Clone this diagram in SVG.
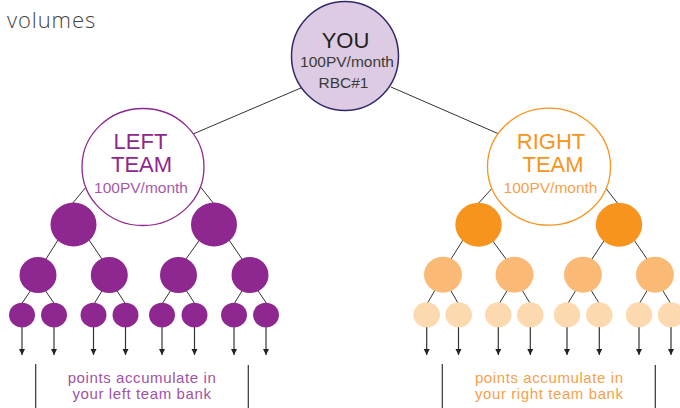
<svg xmlns="http://www.w3.org/2000/svg" width="680" height="408" viewBox="0 0 680 408">
<defs>
<marker id="ah" markerUnits="userSpaceOnUse" markerWidth="7" markerHeight="7" refX="6" refY="3" orient="auto">
<path d="M0,0 L6,3 L0,6 z" fill="#222"/>
</marker>
<style>
.ln{stroke:#333;stroke-width:1;fill:none}
.ar{stroke:#333;stroke-width:1.2;fill:none;marker-end:url(#ah)}
.br{stroke:#333;stroke-width:1.2}
.t{font-family:"Liberation Sans",Arial,sans-serif;text-anchor:middle}
.lbl{font-family:"Liberation Sans",Arial,sans-serif;text-anchor:middle;font-size:15px;letter-spacing:0.6px}
.p1{fill:#8E278F}
.o1{fill:#F7941E}
.o2{fill:#FBB976}
.o3{fill:#FDD9B0}
</style>
</defs>
<rect width="680" height="408" fill="#fff"/>
<text x="7" y="28" font-family="'Open Sans',sans-serif" font-weight="300" font-size="22" letter-spacing="0.9" fill="#444">volumes</text>

<g id="connectors">
<line class="ln" x1="302" y1="87.5" x2="193" y2="134"/>
<line class="ln" x1="391" y1="87" x2="499" y2="134"/>
<line class="ln" x1="86" y1="187" x2="72" y2="204"/>
<line class="ln" x1="199" y1="185" x2="214" y2="204"/>
<line class="ln" x1="494" y1="186" x2="477" y2="205"/>
<line class="ln" x1="604" y1="186" x2="619" y2="205"/>
<line class="ln" x1="58" y1="240" x2="46" y2="259"/>
<line class="ln" x1="89" y1="240" x2="102" y2="259"/>
<line class="ln" x1="199.5" y1="240" x2="186" y2="259"/>
<line class="ln" x1="229" y1="240" x2="242" y2="259"/>
<line class="ln" x1="463" y1="240" x2="451" y2="259"/>
<line class="ln" x1="492" y1="240" x2="506" y2="259"/>
<line class="ln" x1="604.5" y1="240" x2="592" y2="259"/>
<line class="ln" x1="634" y1="240" x2="647" y2="259"/>
<line class="ln" x1="31" y1="290" x2="21.5" y2="304"/>
<line class="ln" x1="45" y1="290" x2="54.5" y2="304"/>
<line class="ln" x1="102.5" y1="290" x2="94" y2="304"/>
<line class="ln" x1="116.5" y1="290" x2="125.5" y2="304"/>
<line class="ln" x1="171" y1="290" x2="162" y2="304"/>
<line class="ln" x1="186" y1="290" x2="195" y2="304"/>
<line class="ln" x1="242.5" y1="290" x2="234" y2="304"/>
<line class="ln" x1="257.5" y1="290" x2="267" y2="304"/>
<line class="ln" x1="435" y1="290" x2="427" y2="304"/>
<line class="ln" x1="450.5" y1="290" x2="458.5" y2="304"/>
<line class="ln" x1="507.5" y1="290" x2="499" y2="304"/>
<line class="ln" x1="522" y1="290" x2="530.5" y2="304"/>
<line class="ln" x1="576" y1="290" x2="567.5" y2="304"/>
<line class="ln" x1="591" y1="290" x2="599.5" y2="304"/>
<line class="ln" x1="647.5" y1="290" x2="639" y2="304"/>
<line class="ln" x1="662.5" y1="290" x2="671" y2="304"/>
<line class="ar" x1="22" y1="326" x2="22" y2="355"/>
<line class="ar" x1="54" y1="326" x2="54" y2="355"/>
<line class="ar" x1="93.5" y1="326" x2="93.5" y2="355"/>
<line class="ar" x1="125.5" y1="326" x2="125.5" y2="355"/>
<line class="ar" x1="162" y1="326" x2="162" y2="355"/>
<line class="ar" x1="194.5" y1="326" x2="194.5" y2="355"/>
<line class="ar" x1="234" y1="326" x2="234" y2="355"/>
<line class="ar" x1="266" y1="326" x2="266" y2="355"/>
<line class="ar" x1="426.7" y1="326" x2="426.7" y2="355"/>
<line class="ar" x1="458.5" y1="326" x2="458.5" y2="355"/>
<line class="ar" x1="498.3" y1="326" x2="498.3" y2="355"/>
<line class="ar" x1="530.3" y1="326" x2="530.3" y2="355"/>
<line class="ar" x1="567" y1="326" x2="567" y2="355"/>
<line class="ar" x1="599.3" y1="326" x2="599.3" y2="355"/>
<line class="ar" x1="639" y1="326" x2="639" y2="355"/>
<line class="ar" x1="671" y1="326" x2="671" y2="355"/>
<line class="br" x1="35.7" y1="364" x2="35.7" y2="408"/>
<line class="br" x1="248.3" y1="365" x2="248.3" y2="408"/>
<line class="br" x1="442.3" y1="364" x2="442.3" y2="408"/>
<line class="br" x1="655.3" y1="365" x2="655.3" y2="408"/>
</g>

<g id="you">
<ellipse cx="345" cy="56" rx="53.5" ry="54.5" fill="#DDCBE3" stroke="#33286A" stroke-width="1.5"/>
<text class="t" x="345.5" y="47.5" font-size="22" fill="#231F20">YOU</text>
<text class="t" x="347" y="66.5" font-size="15.5" fill="#3a3a3a">100PV/month</text>
<text class="t" x="343.5" y="87.5" font-size="15.5" fill="#3a3a3a">RBC#1</text>
</g>

<g id="left-team">
<ellipse cx="143" cy="167" rx="61" ry="58.5" fill="#fff" stroke="#8E278F" stroke-width="1.3"/>
<text class="t" x="140.5" y="149" font-size="22" fill="#8E278F">LEFT</text>
<text class="t" x="141.5" y="172" font-size="22" fill="#8E278F">TEAM</text>
<text class="t" x="141" y="193" font-size="15.5" fill="#A45AA9">100PV/month</text>
</g>

<g id="right-team">
<ellipse cx="549" cy="166.7" rx="61.5" ry="58.5" fill="#fff" stroke="#F7941E" stroke-width="1.3"/>
<text class="t" x="551" y="149" font-size="22" fill="#F7941E">RIGHT</text>
<text class="t" x="553" y="172" font-size="22" fill="#F7941E">TEAM</text>
<text class="t" x="550.5" y="193" font-size="15.5" fill="#F6A24C">100PV/month</text>
</g>

<g id="left-level1">
<ellipse class="p1" cx="73.5" cy="224.5" rx="23" ry="22"/>
<ellipse class="p1" cx="214" cy="224.5" rx="23" ry="22"/>
</g>
<g id="left-level2">
<ellipse class="p1" cx="38" cy="275" rx="18.5" ry="18"/>
<ellipse class="p1" cx="109.3" cy="275" rx="18.5" ry="18"/>
<ellipse class="p1" cx="178.5" cy="275" rx="18.5" ry="18"/>
<ellipse class="p1" cx="250" cy="275" rx="18.5" ry="18"/>
</g>
<g id="left-level3">
<ellipse class="p1" cx="22" cy="315" rx="13" ry="12.3"/>
<ellipse class="p1" cx="54" cy="315" rx="13" ry="12.3"/>
<ellipse class="p1" cx="93.5" cy="315" rx="13" ry="12.3"/>
<ellipse class="p1" cx="125.5" cy="315" rx="13" ry="12.3"/>
<ellipse class="p1" cx="162" cy="315" rx="13" ry="12.3"/>
<ellipse class="p1" cx="194.5" cy="315" rx="13" ry="12.3"/>
<ellipse class="p1" cx="234" cy="315" rx="13" ry="12.3"/>
<ellipse class="p1" cx="266" cy="315" rx="13" ry="12.3"/>
</g>

<g id="right-level1">
<ellipse class="o1" cx="478.5" cy="224.7" rx="23.2" ry="22"/>
<ellipse class="o1" cx="619" cy="224.7" rx="23.2" ry="22"/>
</g>
<g id="right-level2">
<ellipse class="o2" cx="443" cy="274.7" rx="19" ry="18"/>
<ellipse class="o2" cx="514.5" cy="274.7" rx="19" ry="18"/>
<ellipse class="o2" cx="583" cy="274.7" rx="19" ry="18"/>
<ellipse class="o2" cx="655" cy="274.7" rx="19" ry="18"/>
</g>
<g id="right-level3">
<ellipse class="o3" cx="426.7" cy="314.8" rx="13.3" ry="12.5"/>
<ellipse class="o3" cx="458.7" cy="314.8" rx="13.3" ry="12.5"/>
<ellipse class="o3" cx="498.3" cy="314.8" rx="13.3" ry="12.5"/>
<ellipse class="o3" cx="530.3" cy="314.8" rx="13.3" ry="12.5"/>
<ellipse class="o3" cx="567" cy="314.8" rx="13.3" ry="12.5"/>
<ellipse class="o3" cx="599.3" cy="314.8" rx="13.3" ry="12.5"/>
<ellipse class="o3" cx="639" cy="314.8" rx="13.3" ry="12.5"/>
<ellipse class="o3" cx="671" cy="314.8" rx="13.3" ry="12.5"/>
</g>

<g id="left-label">
<text class="lbl" x="142" y="382.5" fill="#A052A5">points accumulate in</text>
<text class="lbl" x="142" y="398.5" fill="#A052A5">your left team bank</text>
</g>
<g id="right-label">
<text class="lbl" x="549.3" y="382.5" fill="#F7A04A">points accumulate in</text>
<text class="lbl" x="549.3" y="398.5" fill="#F7A04A">your right team bank</text>
</g>
</svg>
